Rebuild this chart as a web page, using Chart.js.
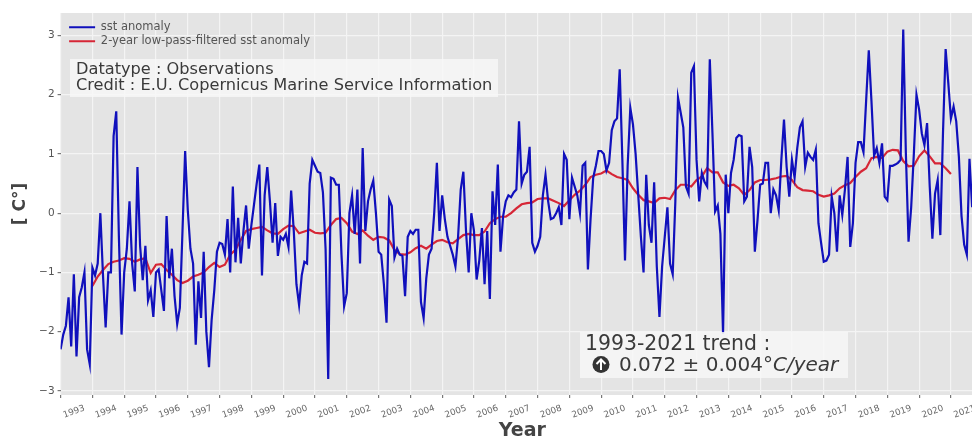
<!DOCTYPE html>
<html>
<head>
<meta charset="utf-8">
<title>sst anomaly</title>
<script src="https://cdn.jsdelivr.net/npm/chart.js@4/dist/chart.umd.min.js"></script>
<style>
  html, body { margin: 0; padding: 0; background: #fff; overflow: hidden; width: 972px; height: 440px; }
</style>
</head>
<body>
<canvas id="chart" width="984" height="440"></canvas>
<script>
// monthly values, first one is jan 1993
const sstAnomaly = [
  -2.3,-2.05,-1.9,-1.42,-2.25,-1.03,-2.42,-1.42,-1.25,-1.0,-2.3,-2.55,
  -0.92,-1.05,-0.85,0.0,-1.05,-1.93,-1.0,-1.0,1.3,1.72,-0.4,-2.05,
  -1.0,-0.6,0.2,-0.85,-1.32,0.78,-0.55,-1.13,-0.55,-1.47,-1.3,-1.75,
  -1.0,-0.95,-1.3,-1.65,-0.05,-1.1,-0.6,-1.4,-1.87,-1.6,-0.3,1.05,
  0.05,-0.6,-0.85,-2.22,-1.15,-1.77,-0.65,-2.0,-2.6,-1.8,-1.3,-0.65,
  -0.5,-0.52,-0.7,-0.1,-1.0,0.45,-0.83,-0.08,-0.85,-0.3,0.13,-0.6,
  -0.2,0.15,0.5,0.82,-1.05,0.3,0.78,0.2,-0.5,0.17,-0.72,-0.4,
  -0.45,-0.35,-0.57,0.38,-0.3,-1.2,-1.55,-1.05,-0.82,-0.85,0.5,0.9,
  0.8,0.7,0.68,0.35,-0.6,-2.8,0.6,0.58,0.48,0.48,-0.7,-1.57,
  -1.35,0.0,0.3,-0.35,0.4,-0.85,1.1,-0.3,0.2,0.4,0.55,0.0,
  -0.65,-0.7,-1.2,-1.85,0.23,0.12,-0.75,-0.6,-0.7,-0.72,-1.4,-0.4,
  -0.3,-0.35,-0.28,-0.28,-1.5,-1.77,-1.1,-0.7,-0.6,0.0,0.85,-0.3,
  0.3,-0.1,-0.4,-0.55,-0.7,-0.9,-0.4,0.4,0.7,-0.3,-1.0,0.0,
  -0.3,-1.12,-0.8,-0.25,-1.2,-0.3,-1.45,0.37,-0.2,0.82,-0.65,-0.05,
  0.2,0.3,0.27,0.35,0.4,1.55,0.5,0.65,0.7,1.12,-0.5,-0.65,
  -0.55,-0.4,0.3,0.65,0.2,-0.1,-0.08,0.0,0.1,-0.2,1.0,0.9,
  -0.1,0.6,0.45,0.3,0.0,0.8,0.85,-0.95,-0.1,0.6,0.8,1.05,
  1.05,1.0,0.72,0.85,1.4,1.55,1.6,2.43,0.9,-0.8,0.8,1.78,
  1.5,1.0,0.3,-0.4,-1.0,0.65,-0.2,-0.5,0.52,-0.9,-1.75,-0.9,
  -0.4,0.1,-0.85,-1.03,0.2,1.95,1.7,1.45,0.45,0.33,2.37,2.48,
  0.9,0.2,0.68,0.53,0.45,2.6,1.35,0.03,0.13,-0.35,-2.03,0.65,
  0.0,0.68,0.9,1.27,1.32,1.3,0.2,0.28,1.12,0.78,-0.65,-0.12,
  0.48,0.5,0.85,0.85,0.0,0.4,0.3,0.05,0.9,1.58,0.78,0.28,
  0.9,0.6,1.1,1.45,1.55,0.78,1.02,0.95,0.9,1.07,-0.17,-0.5,
  -0.82,-0.8,-0.7,0.28,0.0,-0.65,0.3,-0.03,0.4,0.95,-0.57,-0.17,
  0.85,1.2,1.2,1.03,1.9,2.75,1.9,0.97,1.1,0.85,1.18,0.28,
  0.22,0.8,0.8,0.82,0.85,0.9,3.1,1.0,-0.48,0.1,1.0,2.0,
  1.75,1.35,1.15,1.52,0.45,-0.43,0.33,0.56,-0.37,1.35,2.77,2.2,
  1.6,1.8,1.55,0.95,-0.05,-0.53,-0.7,0.92,0.1
];
// read every two months, first one is jan 1994
const filteredAnomaly = [
  -1.23,-1.07,-0.96,-0.86,-0.82,-0.8,
  -0.76,-0.77,-0.82,-0.78,-0.76,-1.01,
  -0.87,-0.86,-0.96,-1.04,-1.13,-1.18,
  -1.14,-1.07,-1.04,-1.0,-0.91,-0.84,
  -0.91,-0.87,-0.7,-0.62,-0.45,-0.3,
  -0.27,-0.25,-0.23,-0.29,-0.34,-0.35,
  -0.27,-0.21,-0.22,-0.34,-0.31,-0.28,
  -0.33,-0.34,-0.33,-0.2,-0.1,-0.08,
  -0.17,-0.31,-0.35,-0.29,-0.38,-0.45,
  -0.4,-0.41,-0.46,-0.62,-0.69,-0.7,
  -0.66,-0.59,-0.55,-0.6,-0.53,-0.47,
  -0.45,-0.49,-0.51,-0.44,-0.37,-0.35,
  -0.37,-0.37,-0.31,-0.17,-0.1,-0.06,
  -0.06,0.0,0.08,0.15,0.17,0.18,
  0.24,0.25,0.25,0.21,0.17,0.12,
  0.22,0.31,0.38,0.48,0.61,0.65,
  0.67,0.72,0.66,0.61,0.59,0.56,
  0.42,0.31,0.22,0.2,0.17,0.25,
  0.26,0.24,0.39,0.48,0.48,0.45,
  0.56,0.62,0.76,0.69,0.69,0.52,
  0.46,0.48,0.42,0.31,0.39,0.52,
  0.56,0.56,0.57,0.59,0.62,0.63,
  0.56,0.44,0.39,0.38,0.37,0.31,
  0.28,0.3,0.33,0.42,0.47,0.51,
  0.61,0.7,0.76,0.93,0.95,0.93,
  1.04,1.07,1.06,0.88,0.79,0.8,
  0.96,1.06,0.96,0.84,0.84,0.76,
  0.66
];
const startYear = 1993;
const filterStartYear = 1994;
const seriesNames = ['sst anomaly', '2-year low-pass-filtered sst anomaly'];
const infoLines = ['Datatype : Observations', 'Credit : E.U. Copernicus Marine Service Information'];
const trendTitle = '1993-2021 trend :';
const trendValue = '0.072 \u00b1 0.004\u00b0';
const trendUnit = 'C/year';

const sstPoints = sstAnomaly.map((v, i) => ({ x: startYear + i / 12, y: v }));
const filteredPoints = filteredAnomaly.map((v, i) => ({ x: filterStartYear + i / 6, y: v }));

const fontName = '"DejaVu Sans"';

// grey panel behind the plot and the two text boxes on top of it
const panels = {
  id: 'panels',
  afterLayout(chart) {
    // legend in the chartArea slot starts at the canvas top, move it down
    chart.legend.top = 19;
    chart.legend.left += 6;
  },
  beforeDraw(chart) {
    const { ctx, chartArea: a } = chart;
    ctx.save();
    ctx.fillStyle = '#e4e4e4';
    ctx.fillRect(a.left, a.top, a.width, a.height);
    ctx.restore();
  },
  afterDatasetsDraw(chart) {
    const ctx = chart.ctx;
    ctx.save();
    ctx.fillStyle = 'rgba(247,247,247,0.85)';
    ctx.fillRect(70, 59, 428, 38);
    ctx.fillRect(580, 332, 268, 46);

    ctx.fillStyle = '#3a3a3a';
    ctx.textAlign = 'left';
    ctx.textBaseline = 'alphabetic';
    ctx.font = '16.2px ' + fontName;
    ctx.fillText(infoLines[0], 76, 74);
    ctx.fillText(infoLines[1], 76, 90);

    ctx.font = '20.4px ' + fontName;
    ctx.fillText(trendTitle, 585, 350);
    ctx.font = '20px ' + fontName;
    ctx.fillText(trendValue, 619, 371);
    const w = ctx.measureText(trendValue).width;
    ctx.font = 'italic 20px ' + fontName;
    ctx.fillText(trendUnit, 619 + w, 371);

    // arrow badge
    ctx.fillStyle = '#333';
    ctx.beginPath();
    ctx.arc(601, 364.5, 8.5, 0, Math.PI * 2);
    ctx.fill();
    ctx.strokeStyle = '#fff';
    ctx.lineWidth = 2;
    ctx.beginPath();
    ctx.moveTo(601, 370);
    ctx.lineTo(601, 359.5);
    ctx.moveTo(596.5, 364);
    ctx.lineTo(601, 359.5);
    ctx.lineTo(605.5, 364);
    ctx.stroke();
    ctx.restore();
  }
};

new Chart(document.getElementById('chart'), {
  type: 'line',
  data: {
    datasets: [
      { label: seriesNames[0], data: sstPoints, borderColor: '#1010bc', borderWidth: 2.2, pointRadius: 0, tension: 0 },
      { label: seriesNames[1], data: filteredPoints, borderColor: '#d62636', borderWidth: 2.2, pointRadius: 0, tension: 0 }
    ]
  },
  plugins: [panels],
  options: {
    responsive: false,
    animation: false,
    layout: { padding: { top: 13, right: 0, left: 0, bottom: 0 } },
    plugins: {
      tooltip: { enabled: false },
      legend: {
        position: 'chartArea',
        align: 'start',
        labels: {
          usePointStyle: true,
          pointStyle: 'line',
          pointStyleWidth: 26,
          boxHeight: 9,
          padding: 2.5,
          color: '#555',
          font: { family: fontName, size: 11.5 }
        }
      }
    },
    scales: {
      x: {
        type: 'linear',
        min: 1993,
        max: 2022.04,
        afterFit(s) { s.height = 45; s.paddingLeft = 0; s.paddingRight = 0; },
        border: { display: false },
        grid: { color: '#f4f4f4', lineWidth: 1.2, tickColor: '#777', tickLength: 3 },
        title: { display: true, text: 'Year', color: '#444', padding: { top: 0, bottom: 0 }, font: { family: fontName, size: 19, weight: 'bold', lineHeight: 0.9 } },
        ticks: {
          stepSize: 1,
          autoSkip: false,
          includeBounds: false,
          minRotation: 20,
          maxRotation: 20,
          labelOffset: 24,
          padding: 5,
          color: '#666',
          font: { family: fontName, size: 8.8 },
          callback: v => String(v)
        }
      },
      y: {
        min: -3.07,
        max: 3.38,
        afterFit(s) { s.width = 60.6; s.paddingTop = 0; s.paddingBottom = 0; },
        border: { display: false },
        grid: { color: '#f4f4f4', lineWidth: 1.2, tickColor: '#777', tickLength: 3 },
        title: { display: true, text: '[ C\u00b0]', color: '#444', padding: { top: 10, bottom: 0 }, font: { family: fontName, size: 17, weight: 'bold' } },
        ticks: {
          stepSize: 1,
          includeBounds: false,
          padding: 3,
          color: '#555',
          font: { family: fontName, size: 10.5 },
          callback: v => String(v).replace('-', '\u2212')
        }
      }
    }
  }
});
</script>
</body>
</html>
